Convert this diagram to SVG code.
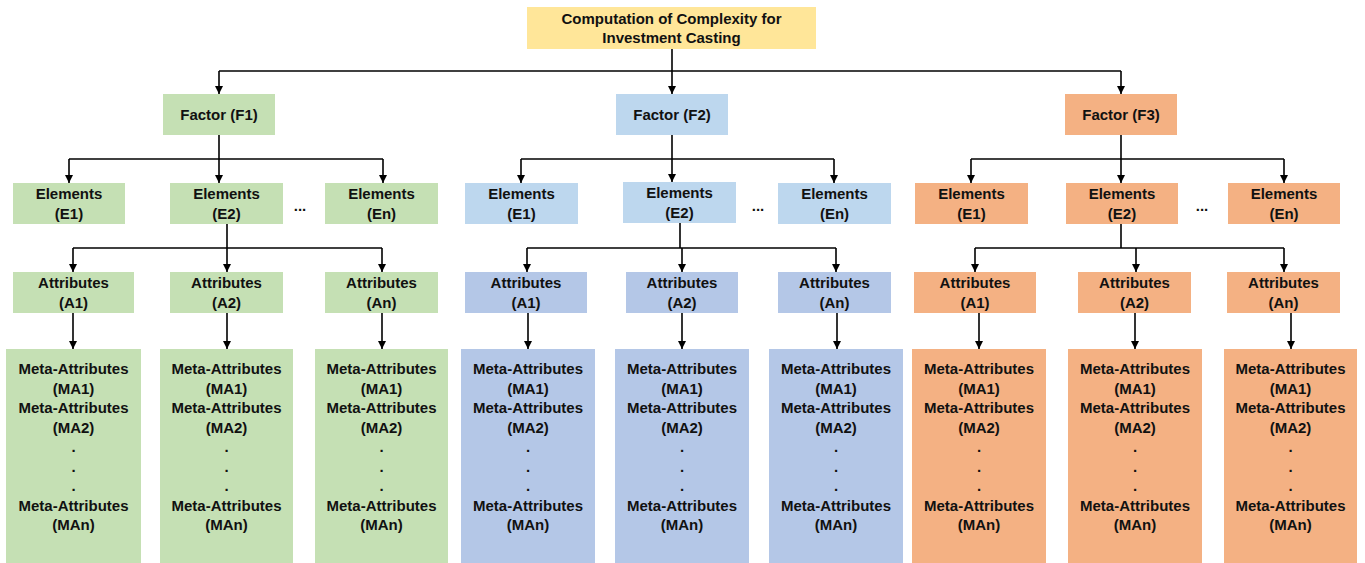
<svg xmlns="http://www.w3.org/2000/svg" width="1365" height="563" viewBox="0 0 1365 563">
<style>
text{font-family:"Liberation Sans",Arial,sans-serif;font-weight:bold;font-size:15px;fill:#111;text-anchor:middle}
.c{fill:none;stroke:#000;stroke-width:1.6}
.y{fill:#FFE699}.g{fill:#C5E0B4}.lb{fill:#BDD7EE}.b{fill:#B4C7E7}.o{fill:#F4B183}
</style>
<defs>
<marker id="ah" markerUnits="userSpaceOnUse" markerWidth="9" markerHeight="9" refX="8" refY="4.5" orient="auto"><path d="M0,0.5 L8,4.5 L0,8.5 Z" fill="#000"/></marker>
</defs>
<g id="connectors" class="c" marker-end="url(#ah)">
<path d="M672,49 V94"/><path d="M219,71 H1121" marker-end="none"/><path d="M219,71 V94"/><path d="M1121,71 V94"/>
<path d="M219,135 V183"/><path d="M69,159 H383" marker-end="none"/><path d="M69,159 V183"/><path d="M383,159 V183"/>
<path d="M227,224 V272"/><path d="M73,248 H382" marker-end="none"/><path d="M73,248 V272"/><path d="M382,248 V272"/>
<path d="M73,313 V349"/><path d="M227,313 V349"/><path d="M382,313 V349"/>
<path d="M672,135 V182"/><path d="M521,159 H834" marker-end="none"/><path d="M521,159 V183"/><path d="M834,159 V183"/>
<path d="M680,223 V248" marker-end="none"/><path d="M527,248 H836" marker-end="none"/><path d="M527,248 V272"/><path d="M682,248 V272"/><path d="M836,248 V272"/>
<path d="M528,313 V349"/><path d="M682,313 V349"/><path d="M837,313 V349"/>
<path d="M1121,135 V183"/><path d="M971,159 H1284" marker-end="none"/><path d="M971,159 V183"/><path d="M1284,159 V183"/>
<path d="M1121,224 V248" marker-end="none"/><path d="M975,248 H1284" marker-end="none"/><path d="M975,248 V272"/><path d="M1136,248 V272"/><path d="M1284,248 V272"/>
<path d="M979,313 V349"/><path d="M1135,313 V349"/><path d="M1291,313 V349"/>
</g>
<g id="root"><rect class="y" x="527" y="7" width="289" height="42"/><text x="671.5" y="24">Computation of Complexity for</text><text x="671.5" y="43">Investment Casting</text></g>
<g id="f1"><rect class="g" x="163" y="94" width="112" height="41"/><text x="219" y="120">Factor (F1)</text></g>
<g id="f2"><rect class="lb" x="616" y="94" width="112" height="41"/><text x="672" y="120">Factor (F2)</text></g>
<g id="f3"><rect class="o" x="1065" y="94" width="112" height="41"/><text x="1121" y="120">Factor (F3)</text></g>
<g id="f1e1"><rect class="g" x="13" y="183" width="112" height="41"/><text x="69" y="199">Elements</text><text x="69" y="219">(E1)</text></g>
<g id="f1e2"><rect class="g" x="170" y="183" width="113" height="41"/><text x="226.5" y="199">Elements</text><text x="226.5" y="219">(E2)</text></g>
<g id="f1en"><rect class="g" x="325" y="183" width="113" height="41"/><text x="381.5" y="199">Elements</text><text x="381.5" y="219">(En)</text></g>
<text x="300" y="211">...</text>
<g id="f2e1"><rect class="lb" x="465" y="183" width="113" height="41"/><text x="521.5" y="199">Elements</text><text x="521.5" y="219">(E1)</text></g>
<g id="f2e2"><rect class="lb" x="623" y="182" width="113" height="41"/><text x="679.5" y="198">Elements</text><text x="679.5" y="218">(E2)</text></g>
<g id="f2en"><rect class="lb" x="778" y="183" width="113" height="41"/><text x="834.5" y="199">Elements</text><text x="834.5" y="219">(En)</text></g>
<text x="758" y="211">...</text>
<g id="f3e1"><rect class="o" x="915" y="183" width="113" height="41"/><text x="971.5" y="199">Elements</text><text x="971.5" y="219">(E1)</text></g>
<g id="f3e2"><rect class="o" x="1066" y="183" width="112" height="41"/><text x="1122" y="199">Elements</text><text x="1122" y="219">(E2)</text></g>
<g id="f3en"><rect class="o" x="1228" y="183" width="112" height="41"/><text x="1284" y="199">Elements</text><text x="1284" y="219">(En)</text></g>
<text x="1202" y="211">...</text>
<g id="f1a1"><rect class="g" x="13" y="272" width="121" height="41"/><text x="73.5" y="288">Attributes</text><text x="73.5" y="308">(A1)</text></g>
<g id="f1a2"><rect class="g" x="170" y="272" width="113" height="41"/><text x="226.5" y="288">Attributes</text><text x="226.5" y="308">(A2)</text></g>
<g id="f1an"><rect class="g" x="325" y="272" width="113" height="41"/><text x="381.5" y="288">Attributes</text><text x="381.5" y="308">(An)</text></g>
<g id="f2a1"><rect class="b" x="465" y="272" width="122" height="41"/><text x="526" y="288">Attributes</text><text x="526" y="308">(A1)</text></g>
<g id="f2a2"><rect class="b" x="626" y="272" width="112" height="41"/><text x="682" y="288">Attributes</text><text x="682" y="308">(A2)</text></g>
<g id="f2an"><rect class="b" x="778" y="272" width="113" height="41"/><text x="834.5" y="288">Attributes</text><text x="834.5" y="308">(An)</text></g>
<g id="f3a1"><rect class="o" x="914" y="272" width="122" height="41"/><text x="975" y="288">Attributes</text><text x="975" y="308">(A1)</text></g>
<g id="f3a2"><rect class="o" x="1078" y="272" width="113" height="41"/><text x="1134.5" y="288">Attributes</text><text x="1134.5" y="308">(A2)</text></g>
<g id="f3an"><rect class="o" x="1227" y="272" width="113" height="41"/><text x="1283.5" y="288">Attributes</text><text x="1283.5" y="308">(An)</text></g>
<defs>
<g id="matext">
<text x="0" y="374">Meta-Attributes</text><text x="0" y="393.5">(MA1)</text>
<text x="0" y="413">Meta-Attributes</text><text x="0" y="432.5">(MA2)</text>
<text x="0" y="452">.</text><text x="0" y="471.5">.</text><text x="0" y="491">.</text>
<text x="0" y="510.5">Meta-Attributes</text><text x="0" y="530">(MAn)</text>
</g>
</defs>
<g id="f1ma1"><rect class="g" x="6" y="349" width="135" height="214"/><use href="#matext" x="73.5"/></g>
<g id="f1ma2"><rect class="g" x="160" y="349" width="133" height="214"/><use href="#matext" x="226.5"/></g>
<g id="f1man"><rect class="g" x="315" y="349" width="133" height="214"/><use href="#matext" x="381.5"/></g>
<g id="f2ma1"><rect class="b" x="461" y="349" width="134" height="214"/><use href="#matext" x="528"/></g>
<g id="f2ma2"><rect class="b" x="615" y="349" width="134" height="214"/><use href="#matext" x="682"/></g>
<g id="f2man"><rect class="b" x="769" y="349" width="134" height="214"/><use href="#matext" x="836"/></g>
<g id="f3ma1"><rect class="o" x="912" y="349" width="134" height="214"/><use href="#matext" x="979"/></g>
<g id="f3ma2"><rect class="o" x="1068" y="349" width="134" height="214"/><use href="#matext" x="1135"/></g>
<g id="f3man"><rect class="o" x="1224" y="349" width="133" height="214"/><use href="#matext" x="1290.5"/></g>
</svg>
